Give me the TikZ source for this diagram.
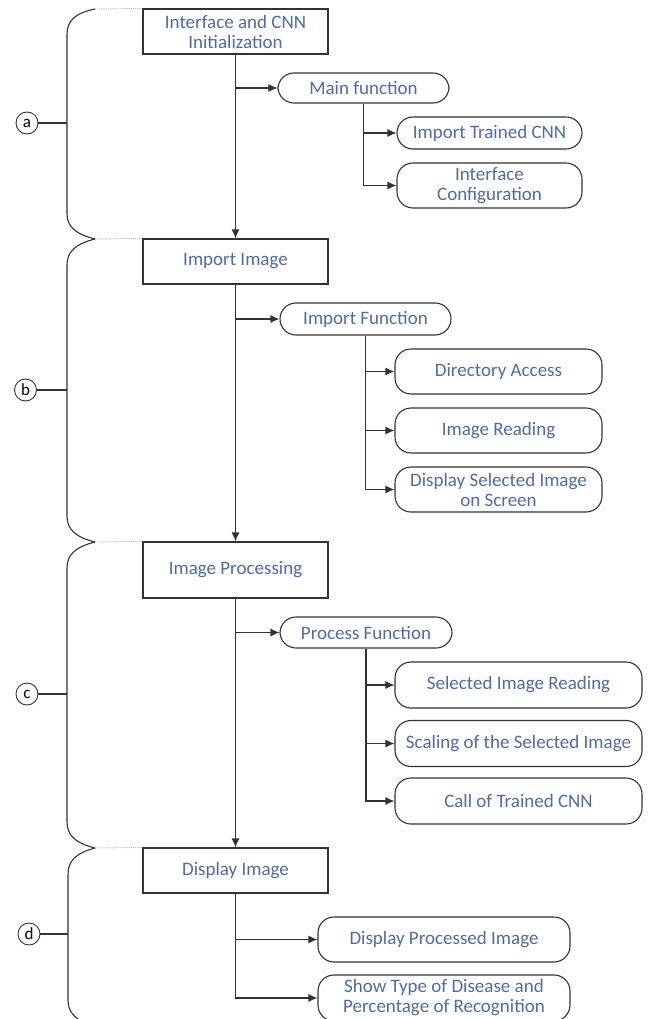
\documentclass[tikz,border=0pt]{standalone}
\usepackage{fontspec}
\setmainfont{Carlito}
\usetikzlibrary{arrows.meta}
\definecolor{txtblue}{RGB}{78,108,158}
\definecolor{lncol}{RGB}{50,50,50}
\begin{document}
\begin{tikzpicture}[x=1pt,y=-1pt,
  box/.style={draw=lncol, line width=1.1pt, rectangle, minimum width=185pt, minimum height=45pt, inner sep=0pt, text=txtblue, font=\fontsize{19}{20}\selectfont, align=center},
  pill/.style={draw=lncol, line width=1.1pt, rectangle, rounded corners=16pt, inner sep=0pt, text=txtblue, font=\fontsize{19}{20}\selectfont, align=center},
  conn/.style={draw=lncol, line width=1.1pt, -{Latex[length=9pt,width=8pt]}},
  brk/.style={draw=lncol, line width=1.1pt},
  dotl/.style={draw=gray!60, line width=0.9pt, densely dotted},
  lbl/.style={draw=lncol, line width=0.9pt, circle, minimum size=22pt, inner sep=0pt, font=\fontsize{17}{17}\selectfont}
]
\useasboundingbox (0,0) rectangle (651,1019);
\clip (0,0) rectangle (651,1019);

% main boxes
\node[box] (b1) at (235.5,31.5) {Interface and CNN\\Initialization};
\node[box] (b2) at (235.5,261.5) {Import Image};
\node[box, minimum height=56pt] (b3) at (235.5,570) {Image Processing};
\node[box] (b4) at (235.5,870.5) {Display Image};

% section a
\node[pill, minimum width=171pt, minimum height=30pt] (mf) at (363.5,88) {Main function};
\node[pill, minimum width=185pt, minimum height=32pt] (itc) at (489.5,133) {Import Trained CNN};
\node[pill, minimum width=185pt, minimum height=45pt] (ic) at (489.5,185.5) {Interface\\Configuration};

% section b
\node[pill, minimum width=171pt, minimum height=32pt] (if) at (365.5,319) {Import Function};
\node[pill, minimum width=207pt, minimum height=45pt] (da) at (498.5,371.5) {Directory Access};
\node[pill, minimum width=207pt, minimum height=45pt] (ir) at (498.5,430.5) {Image Reading};
\node[pill, minimum width=207pt, minimum height=45pt] (ds) at (498.5,489.5) {Display Selected Image\\on Screen};

% section c
\node[pill, minimum width=172pt, minimum height=31pt] (pf) at (366,632.5) {Process Function};
\node[pill, minimum width=247pt, minimum height=46pt] (sir) at (518.5,685) {Selected Image Reading};
\node[pill, minimum width=247pt, minimum height=46pt] (sc) at (518.5,743.5) {Scaling of the Selected Image};
\node[pill, minimum width=247pt, minimum height=46pt] (ct) at (518.5,801) {Call of Trained CNN};

% section d
\node[pill, minimum width=252pt, minimum height=45pt] (dp) at (444,939.5) {Display Processed Image};
\node[pill, minimum width=252pt, minimum height=46pt] (st) at (444,998) {Show Type of Disease and\\Percentage of Recognition};

% trunks between main boxes
\draw[conn] (b1.south) -- (b2.north);
\draw[conn] (b2.south) -- (b3.north);
\draw[conn] (b3.south) -- (b4.north);

% branches a
\draw[conn] (b1.south |- mf.west) -- (mf.west);
\draw[conn] (mf.south |- itc.west) -- (itc.west);
\draw[conn] (mf.south) |- (ic.west);

% branches b
\draw[conn] (b2.south |- if.west) -- (if.west);
\draw[conn] (if.south |- da.west) -- (da.west);
\draw[conn] (if.south |- ir.west) -- (ir.west);
\draw[conn] (if.south) |- (ds.west);

% branches c
\draw[conn] (b3.south |- pf.west) -- (pf.west);
\draw[conn] (pf.south |- sir.west) -- (sir.west);
\draw[conn] (pf.south |- sc.west) -- (sc.west);
\draw[conn] (pf.south) |- (ct.west);

% branches d
\draw[conn] (b4.south |- dp.west) -- (dp.west);
\draw[conn] (b4.south) |- (st.west);

% brackets
\coordinate (ta) at (95,9);
\coordinate (tb) at (95,239);
\coordinate (tc) at (95,542);
\coordinate (td) at (95,848);
\coordinate (te) at (95,1026);

\draw[brk] (ta) .. controls (75,13) and (67,21) .. (67,34) -- (67,214) .. controls (67,226) and (75,234) .. (tb);
\draw[brk] (tb) .. controls (75,244) and (67,252) .. (67,265) -- (67,516) .. controls (67,529) and (75,537) .. (tc);
\draw[brk] (tc) .. controls (75,547) and (67,555) .. (67,568) -- (67,822) .. controls (67,835) and (75,843) .. (td);
\draw[brk] (td) .. controls (76,853) and (68,861) .. (68,874) -- (68,1000) .. controls (68,1013) and (76,1021) .. (te);

\draw[dotl] (ta) -- (b1.north west);
\draw[dotl] (tb) -- (b2.north west);
\draw[dotl] (tc) -- (b3.north west);
\draw[dotl] (td) -- (b4.north west);

% labels
\coordinate (ma) at (67,123);
\coordinate (mb) at (67,390);
\coordinate (mc) at (67,694);
\coordinate (md) at (68,934);
\node[lbl] (la) at (27,123) {a};
\node[lbl] (lb) at (25.5,390) {b};
\node[lbl] (lc) at (27,694) {c};
\node[lbl] (ld) at (29,934) {d};
\draw[brk] (la.east) -- (ma);
\draw[brk] (lb.east) -- (mb);
\draw[brk] (lc.east) -- (mc);
\draw[brk] (ld.east) -- (md);
\end{tikzpicture}
\end{document}
